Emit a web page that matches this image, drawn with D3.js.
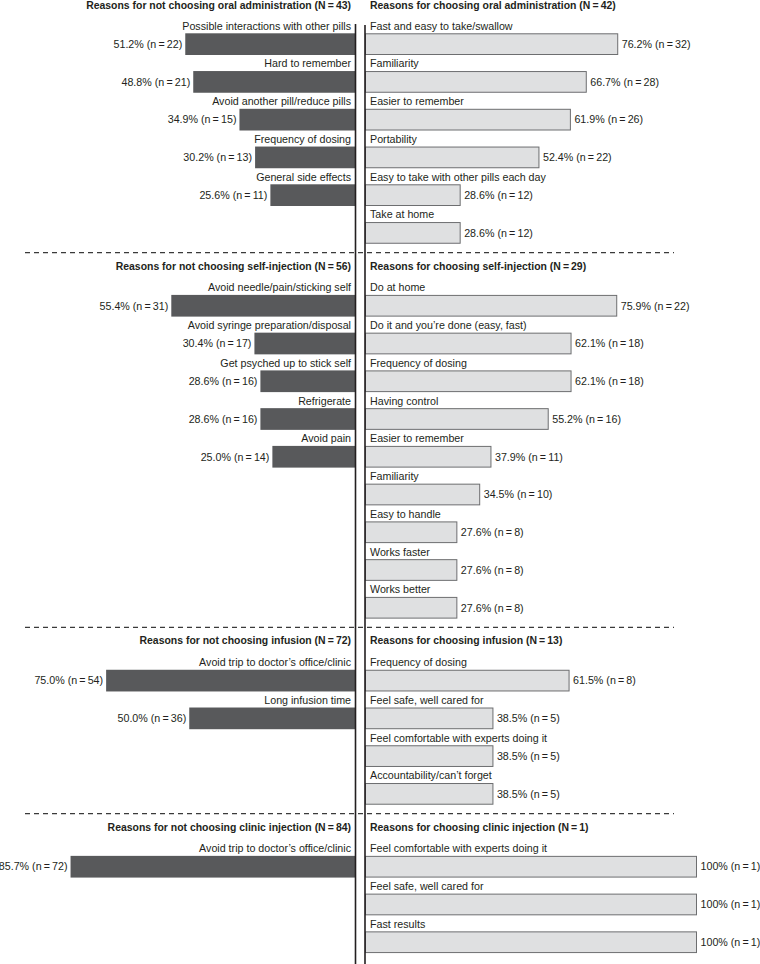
<!DOCTYPE html>
<html>
<head>
<meta charset="utf-8">
<script src="https://cdn.jsdelivr.net/npm/d3@7"></script>
<style>
  html, body { margin: 0; padding: 0; background: #fff; }
  svg { display: block; }
  text { font-family: "Liberation Sans", Arial, Helvetica, sans-serif; fill: #231f20; }
</style>
</head>
<body>
<svg id="chart" width="760" height="964"></svg>
<script>
// ---------- DATA ----------
const notTitles = [
  "Reasons for not choosing oral administration (N\u2009=\u200943)",
  "Reasons for not choosing self-injection (N\u2009=\u200956)",
  "Reasons for not choosing infusion (N\u2009=\u200972)",
  "Reasons for not choosing clinic injection (N\u2009=\u200984)"
];
const forTitles = [
  "Reasons for choosing oral administration (N\u2009=\u200942)",
  "Reasons for choosing self-injection (N\u2009=\u200929)",
  "Reasons for choosing infusion (N\u2009=\u200913)",
  "Reasons for choosing clinic injection (N\u2009=\u20091)"
];

// Oral administration
const oralNotLabels = ["Possible interactions with other pills", "Hard to remember", "Avoid another pill/reduce pills", "Frequency of dosing", "General side effects"];
const oralNotPct = [51.2, 48.8, 34.9, 30.2, 25.6];
const oralNotN = [22, 21, 15, 13, 11];
const oralForLabels = ["Fast and easy to take/swallow", "Familiarity", "Easier to remember", "Portability", "Easy to take with other pills each day", "Take at home"];
const oralForPct = [76.2, 66.7, 61.9, 52.4, 28.6, 28.6];
const oralForN = [32, 28, 26, 22, 12, 12];

// Self-injection
const selfNotLabels = ["Avoid needle/pain/sticking self", "Avoid syringe preparation/disposal", "Get psyched up to stick self", "Refrigerate", "Avoid pain"];
const selfNotPct = [55.4, 30.4, 28.6, 28.6, 25.0];
const selfNotN = [31, 17, 16, 16, 14];
const selfForLabels = ["Do at home", "Do it and you\u2019re done (easy, fast)", "Frequency of dosing", "Having control", "Easier to remember", "Familiarity", "Easy to handle", "Works faster", "Works better"];
const selfForPct = [75.9, 62.1, 62.1, 55.2, 37.9, 34.5, 27.6, 27.6, 27.6];
const selfForN = [22, 18, 18, 16, 11, 10, 8, 8, 8];

// Infusion
const infNotLabels = ["Avoid trip to doctor\u2019s office/clinic", "Long infusion time"];
const infNotPct = [75.0, 50.0];
const infNotN = [54, 36];
const infForLabels = ["Frequency of dosing", "Feel safe, well cared for", "Feel comfortable with experts doing it", "Accountability/can\u2019t forget"];
const infForPct = [61.5, 38.5, 38.5, 38.5];
const infForN = [8, 5, 5, 5];

// Clinic injection
const clinNotLabels = ["Avoid trip to doctor\u2019s office/clinic"];
const clinNotPct = [85.7];
const clinNotN = [72];
const clinForLabels = ["Feel comfortable with experts doing it", "Feel safe, well cared for", "Fast results"];
const clinForPct = [100, 100, 100];
const clinForN = [1, 1, 1];

// ---------- BUILD ----------
const zip = (labels, pct, n) => labels.map((l, i) => ({ label: l, pct: pct[i], n: n[i] }));
const sections = [
  { not: zip(oralNotLabels, oralNotPct, oralNotN), pro: zip(oralForLabels, oralForPct, oralForN) },
  { not: zip(selfNotLabels, selfNotPct, selfNotN), pro: zip(selfForLabels, selfForPct, selfForN) },
  { not: zip(infNotLabels, infNotPct, infNotN), pro: zip(infForLabels, infForPct, infForN) },
  { not: zip(clinNotLabels, clinNotPct, clinNotN), pro: zip(clinForLabels, clinForPct, clinForN) }
];
sections.forEach((s, i) => { s.notTitle = notTitles[i]; s.forTitle = forTitles[i]; });

// row units: each row = 1 unit, each section break adds extra gap
const GAP = 0.93;
let u = 0;
sections.forEach(s => {
  s.start = u;
  s.rows = Math.max(s.not.length, s.pro.length);
  u += s.rows + GAP;
});

const y = d3.scaleLinear().domain([0, 1]).range([33.3, 33.3 + 37.75]);
const barH = 21.7;
const xL = d3.scaleLinear().domain([0, 100]).range([355.5, 23]);
const xR = d3.scaleLinear().domain([0, 100]).range([365.5, 696.5]);

const svg = d3.select("#chart");
const FS = 10.7;
const FSB = 10.45;
const fmtPct = p => (p === 100 ? "100" : p.toFixed(1)) + "%";
const fmtN = n => " (n\u2009=\u2009" + n + ")";

sections.forEach((s, si) => {
  const top = y(s.start);
  const g = svg.append("g");

  if (si > 0) {
    g.append("line")
      .attr("x1", 25).attr("x2", 674)
      .attr("y1", top - 42.3).attr("y2", top - 42.3)
      .attr("stroke", "#3a3a3a").attr("stroke-width", 1.3)
      .attr("stroke-dasharray", "5,4");
  }

  // titles
  const ty = si === 0 ? top - 28.3 : top - 29;
  g.append("text").attr("x", 351).attr("y", ty).attr("dy", "0.35em")
    .attr("text-anchor", "end").attr("font-weight", "bold").attr("font-size", FSB)
    .text(s.notTitle);
  g.append("text").attr("x", 370).attr("y", ty).attr("dy", "0.35em")
    .attr("text-anchor", "start").attr("font-weight", "bold").attr("font-size", FSB)
    .text(s.forTitle);

  // left (not choosing)
  s.not.forEach((d, i) => {
    const by = y(s.start + i);
    g.append("rect")
      .attr("x", xL(d.pct)).attr("y", by)
      .attr("width", xL(0) - xL(d.pct)).attr("height", barH)
      .attr("fill", "#58595b");
    g.append("text").attr("x", 351).attr("y", by - 3.6)
      .attr("text-anchor", "end").attr("font-size", FS).text(d.label);
    g.append("text").attr("x", xL(d.pct) - 3).attr("y", by + barH / 2).attr("dy", "0.35em")
      .attr("text-anchor", "end").attr("font-size", FS).text(fmtPct(d.pct) + fmtN(d.n));
  });

  // right (choosing)
  s.pro.forEach((d, i) => {
    const by = y(s.start + i);
    g.append("rect")
      .attr("x", xR(0)).attr("y", by + 0.5)
      .attr("width", xR(d.pct) - xR(0)).attr("height", barH - 1)
      .attr("fill", "#dfe0e1").attr("stroke", "#6d6e70").attr("stroke-width", 1);
    g.append("text").attr("x", 370).attr("y", by - 3.6)
      .attr("text-anchor", "start").attr("font-size", FS).text(d.label);
    g.append("text").attr("x", xR(d.pct) + 4).attr("y", by + barH / 2).attr("dy", "0.35em")
      .attr("text-anchor", "start").attr("font-size", FS).text(fmtPct(d.pct) + fmtN(d.n));
  });
});

// vertical axis lines
svg.append("line").attr("x1", 355.5).attr("x2", 355.5).attr("y1", 24).attr("y2", 964)
  .attr("stroke", "#231f20").attr("stroke-width", 1.6);
svg.append("line").attr("x1", 365).attr("x2", 365).attr("y1", 25).attr("y2", 964)
  .attr("stroke", "#231f20").attr("stroke-width", 1.6);
</script>
</body>
</html>
